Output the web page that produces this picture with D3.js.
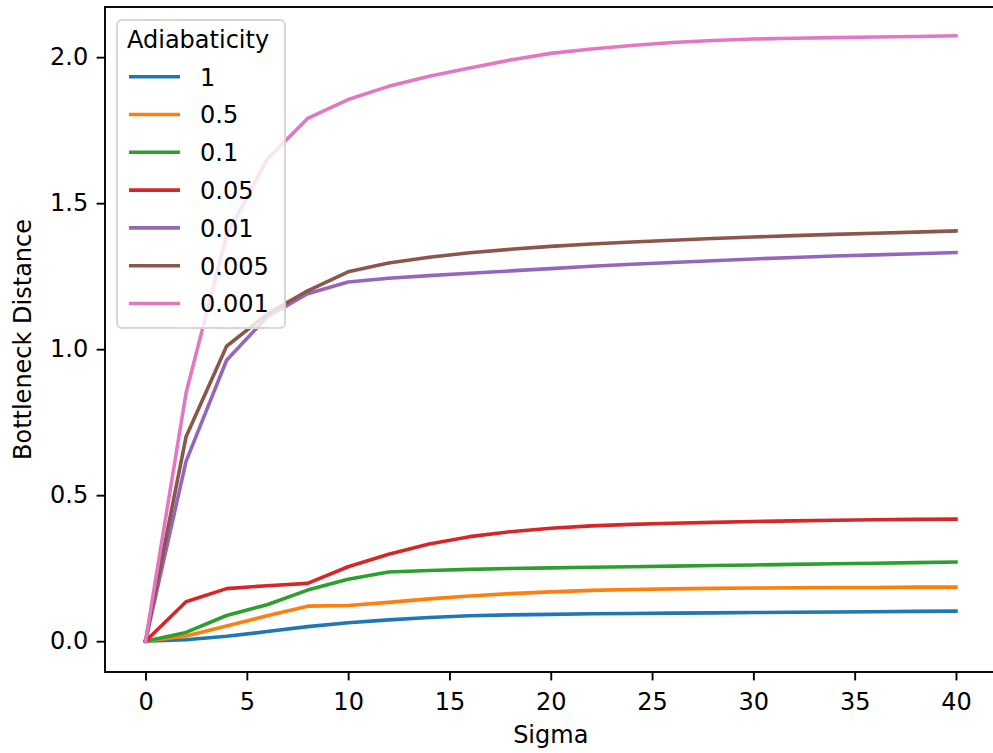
<!DOCTYPE html>
<html>
<head>
<meta charset="utf-8">
<script src="https://cdn.jsdelivr.net/npm/d3@7"></script>
<style>
  html, body { margin: 0; padding: 0; background: #fff; }
  svg { display: block; }
  text { font-family: "DejaVu Sans", sans-serif; fill: #000; }
</style>
</head>
<body>
<svg id="chart" width="993" height="753"></svg>
<script>
const sigma = [0,2,4,6,8,10,12,14,16,18,20,22,24,26,28,30,32,34,36,38,40];
const seriesLabels = ["1","0.5","0.1","0.05","0.01","0.005","0.001"];
const colors = ["#1f77b4","#ff7f0e","#2ca02c","#d62728","#9467bd","#8c564b","#e377c2"];
const s1     = [0,0.005,0.017,0.033,0.050,0.063,0.073,0.081,0.087,0.090,0.092,0.094,0.095,0.096,0.097,0.098,0.099,0.100,0.101,0.102,0.103];
const s05    = [0,0.018,0.052,0.087,0.120,0.122,0.133,0.145,0.155,0.163,0.169,0.174,0.177,0.179,0.181,0.182,0.183,0.184,0.184,0.185,0.185];
const s01    = [0,0.030,0.088,0.125,0.175,0.212,0.237,0.242,0.246,0.249,0.251,0.253,0.255,0.257,0.259,0.261,0.263,0.265,0.267,0.269,0.271];
const s005   = [0,0.135,0.180,0.190,0.198,0.255,0.298,0.333,0.358,0.375,0.387,0.395,0.400,0.404,0.407,0.410,0.412,0.414,0.416,0.417,0.418];
const s001   = [0,0.616,0.962,1.110,1.190,1.230,1.243,1.252,1.260,1.268,1.276,1.284,1.291,1.297,1.303,1.309,1.314,1.319,1.323,1.327,1.331];
const s0005  = [0,0.700,1.010,1.120,1.200,1.265,1.295,1.315,1.330,1.342,1.352,1.360,1.367,1.373,1.379,1.384,1.389,1.393,1.397,1.401,1.405];
const s0001  = [0,0.850,1.390,1.650,1.790,1.855,1.900,1.935,1.963,1.990,2.013,2.028,2.040,2.050,2.057,2.062,2.065,2.067,2.069,2.071,2.073];
const seriesValues = [s1, s05, s01, s005, s001, s0005, s0001];
const xTicks = [0,5,10,15,20,25,30,35,40];
const yTicks = [0.0,0.5,1.0,1.5,2.0];

const svg = d3.select("#chart");
const mLeft = 105, mRight = 996.5, mTop = 7, mBottom = 672;
const x = d3.scaleLinear().domain([-2, 42]).range([mLeft, mRight]);
const y = d3.scaleLinear().domain([-0.1055, 2.1718]).range([mBottom, mTop]);

const plot = svg.append("g");
const line = d3.line().x((d,i) => x(sigma[i])).y(d => y(d));
seriesValues.forEach((vals, k) => {
  plot.append("path")
    .datum(vals)
    .attr("d", line)
    .attr("fill", "none")
    .attr("stroke", colors[k])
    .attr("stroke-width", 3.6)
    .attr("stroke-linejoin", "round")
    .attr("stroke-linecap", "square");
});

// axes
const fs = 24;
const xAxis = d3.axisBottom(x).tickValues(xTicks).tickFormat(d3.format("d")).tickSize(8.4).tickPadding(12.6);
const gx = svg.append("g").attr("transform", `translate(0,${mBottom})`).call(xAxis);
const yAxis = d3.axisLeft(y).tickValues(yTicks).tickFormat(d3.format(".1f")).tickSize(8.4).tickPadding(8.4);
const gy = svg.append("g").attr("transform", `translate(${mLeft},0)`).call(yAxis);
[gx, gy].forEach(g => {
  g.select(".domain").remove();
  g.selectAll(".tick line").attr("stroke", "#000").attr("stroke-width", 1.9);
  g.selectAll(".tick text").attr("font-size", fs).attr("font-family", "DejaVu Sans").attr("fill", "#000");
});

// spines
svg.append("rect")
  .attr("x", mLeft).attr("y", mTop)
  .attr("width", mRight - mLeft).attr("height", mBottom - mTop)
  .attr("fill", "none").attr("stroke", "#000").attr("stroke-width", 1.9);

// axis labels
svg.append("text").attr("x", (mLeft + mRight) / 2).attr("y", 743)
  .attr("text-anchor", "middle").attr("font-size", fs).text("Sigma");
svg.append("text")
  .attr("transform", `translate(31,${(mTop + mBottom) / 2}) rotate(-90)`)
  .attr("text-anchor", "middle").attr("font-size", fs).text("Bottleneck Distance");

// legend
const lg = svg.append("g");
lg.append("rect").attr("x", 117).attr("y", 20).attr("width", 168).attr("height", 308)
  .attr("rx", 5).attr("fill", "rgba(255,255,255,0.8)").attr("stroke", "#d6d6d6").attr("stroke-width", 1.9);
lg.append("text").attr("x", 127).attr("y", 48).attr("font-size", fs).text("Adiabaticity");
seriesLabels.forEach((lab, k) => {
  const yy = 76.7 + k * 37.8;
  lg.append("line").attr("x1", 129).attr("x2", 180).attr("y1", yy).attr("y2", yy)
    .attr("stroke", colors[k]).attr("stroke-width", 3.6);
  lg.append("text").attr("x", 200).attr("y", yy + 8.8).attr("font-size", fs).text(lab);
});
</script>
</body>
</html>
